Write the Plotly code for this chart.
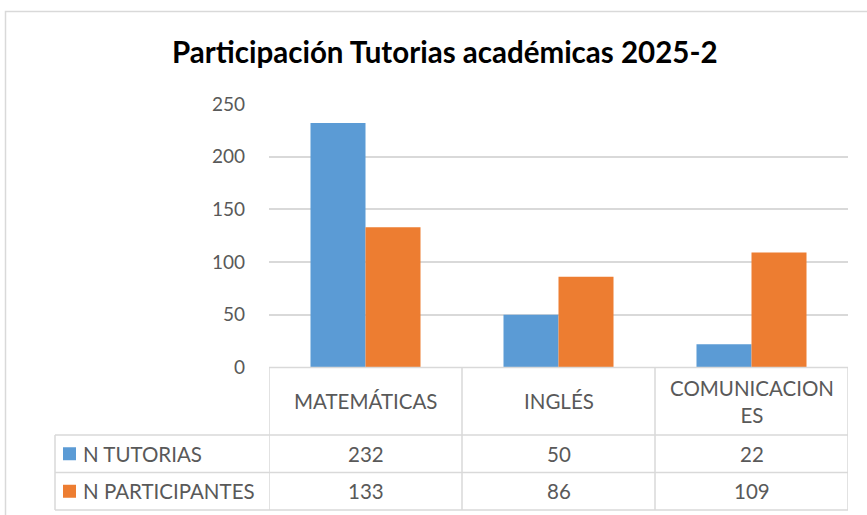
import plotly.graph_objects as go

categories = ["MATEMÁTICAS", "INGLÉS", "COMUNICACIONES"]
series_names = ["N TUTORIAS", "N PARTICIPANTES"]
tutorias = [232, 50, 22]
participantes = [133, 86, 109]
y_ticks = [0, 50, 100, 150, 200, 250]
title_text = "Participación Tutorias académicas 2025-2"

colors = ["#5B9BD5", "#ED7D31"]
W, H = 867, 515
FONT = "Lato"
GRAY = "#595959"
LINE = "#D9D9D9"

def px_x(p):
    return p / W

def px_y(p):
    return 1 - p / H

plot_left, plot_right = 269, 848
plot_top, plot_bottom = 104, 367.5
row_lines = [367.5, 435, 472.5, 510]
label_left = 55

xs = list(range(len(categories)))
fig = go.Figure()
for name, vals, col in zip(series_names, [tutorias, participantes], colors):
    fig.add_trace(go.Bar(x=xs, y=vals, name=name, marker=dict(color=col, line=dict(width=0)),
                         showlegend=False, hoverinfo="y"))

fig.update_layout(
    width=W, height=H, autosize=False,
    margin=dict(l=0, r=0, t=0, b=0, pad=0),
    paper_bgcolor="white", plot_bgcolor="white",
    barmode="group", bargap=0.43, bargroupgap=0,
    font=dict(family=FONT, color=GRAY),
    xaxis=dict(domain=[px_x(plot_left), px_x(plot_right)], range=[-0.5, len(categories) - 0.5],
               showticklabels=False, showgrid=False, zeroline=False, showline=False, fixedrange=True,
               automargin=False),
    yaxis=dict(domain=[px_y(plot_bottom), px_y(plot_top)], range=[0, 250], tickvals=y_ticks,
               showgrid=True, gridcolor=LINE, gridwidth=1.5, zeroline=False, showline=False,
               tickfont=dict(family=FONT, size=19, color=GRAY), ticklabelstandoff=23, fixedrange=True,
               automargin=False),
)

shapes = []
# outer chart border
shapes.append(dict(type="rect", xref="paper", yref="paper", x0=px_x(5.5), x1=1.05, y0=-0.05, y1=px_y(11.5),
                   line=dict(color=LINE, width=1.5), layer="below"))
# table horizontal lines
for i, yy in enumerate(row_lines):
    x0 = plot_left if i == 0 else label_left
    shapes.append(dict(type="line", xref="paper", yref="paper", x0=px_x(x0), x1=px_x(plot_right),
                       y0=px_y(yy), y1=px_y(yy), line=dict(color=LINE, width=1.5)))
# vertical lines at category boundaries
for k in range(len(categories) + 1):
    shapes.append(dict(type="line", xref="x", yref="paper", x0=k - 0.5, x1=k - 0.5,
                       y0=px_y(row_lines[0]), y1=px_y(row_lines[-1]), line=dict(color=LINE, width=1.5)))
shapes.append(dict(type="line", xref="paper", yref="paper", x0=px_x(label_left), x1=px_x(label_left),
                   y0=px_y(row_lines[1]), y1=px_y(row_lines[-1]), line=dict(color=LINE, width=1.5)))

annotations = []
annotations.append(dict(text="<b>" + title_text + "</b>", xref="paper", yref="paper", x=px_x(445), y=px_y(51),
                        showarrow=False, font=dict(family=FONT, size=29.5, color="#000000"),
                        xanchor="center", yanchor="middle"))

def wrap(s, n=12):
    return s if len(s) <= n else s[:n] + "<br>" + s[n:]

for k, cat in enumerate(categories):
    annotations.append(dict(text=wrap(cat), xref="x", yref="paper", x=k, y=px_y((row_lines[0] + row_lines[1]) / 2),
                            showarrow=False, font=dict(family=FONT, size=20.5, color=GRAY),
                            xanchor="center", yanchor="middle", align="center"))
for r, (name, vals, col) in enumerate(zip(series_names, [tutorias, participantes], colors)):
    yc = (row_lines[r + 1] + row_lines[r + 2]) / 2
    shapes.append(dict(type="rect", xref="paper", yref="paper", x0=px_x(63), x1=px_x(76),
                       y0=px_y(yc + 6.5), y1=px_y(yc - 6.5), fillcolor=col, line=dict(width=0)))
    annotations.append(dict(text=name, xref="paper", yref="paper", x=px_x(81), y=px_y(yc),
                            showarrow=False, font=dict(family=FONT, size=20.5, color=GRAY),
                            xanchor="left", yanchor="middle"))
    for k, v in enumerate(vals):
        annotations.append(dict(text=str(v), xref="x", yref="paper", x=k, y=px_y(yc),
                                showarrow=False, font=dict(family=FONT, size=20.5, color=GRAY),
                                xanchor="center", yanchor="middle"))

fig.update_layout(shapes=shapes, annotations=annotations)
fig.write_html("out.html", config={"displayModeBar": False},
               post_script="document.body.style.margin='0';document.body.style.overflow='hidden';")
